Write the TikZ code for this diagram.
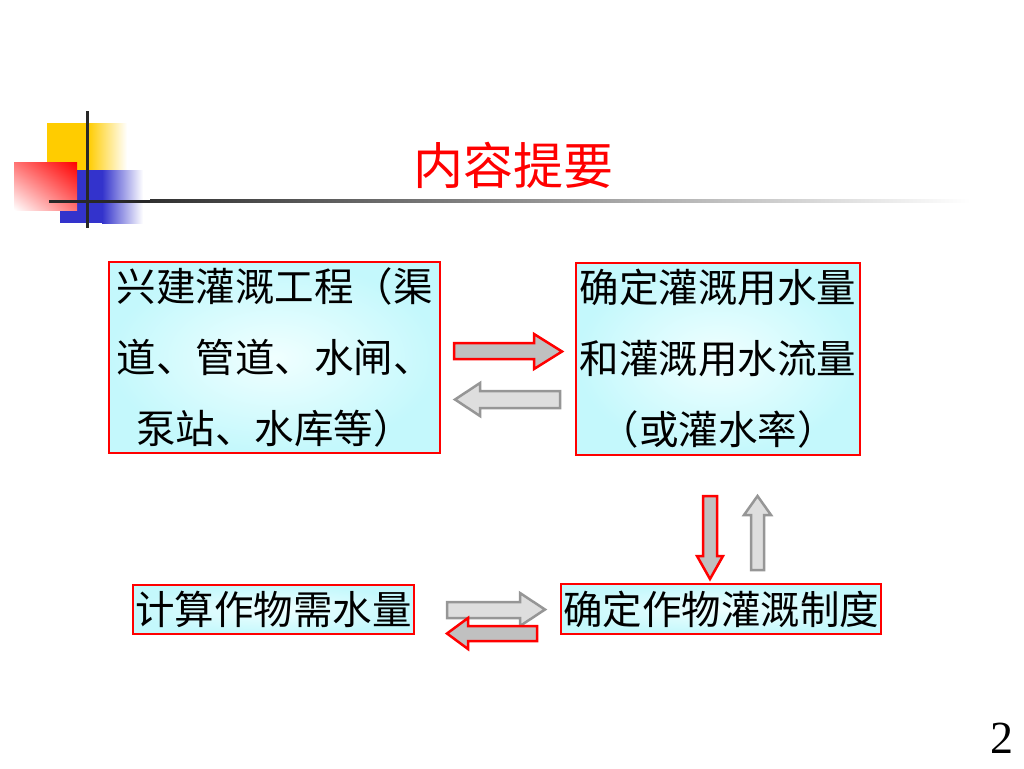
\documentclass[tikz,border=0pt]{standalone}
\usepackage{fontspec}
\usetikzlibrary{shadings}
\newfontfamily\cjk{Noto Sans CJK SC}
\newfontfamily\numfont{Liberation Serif}
\definecolor{boxin}{RGB}{240,255,255}
\definecolor{boxout}{RGB}{196,248,252}
\definecolor{arrfillA}{RGB}{192,192,192}
\definecolor{arrfillB}{RGB}{222,222,222}
\definecolor{arrgray}{RGB}{150,150,150}
\definecolor{logoyellow}{RGB}{255,204,0}
\definecolor{logoblue}{RGB}{51,51,204}
\definecolor{linedark}{RGB}{40,40,40}
\begin{document}
\begin{tikzpicture}[x=1pt,y=-1pt,
  infobox/.style={draw=red, line width=2.5pt, rectangle, inner sep=0pt,
    inner color=boxin, outer color=boxout, align=center,
    font=\cjk\fontsize{39.5}{71}\selectfont},
  redarrow/.style={draw=red, fill=arrfillA, line width=2.5pt, line join=miter},
  grayarrow/.style={draw=arrgray, fill=arrfillB, line width=2.5pt, line join=miter}]
\useasboundingbox (0,0) rectangle (1024,768);
% logo
\fill[logoyellow] (47,123) rectangle (88,190);
\shade[left color=logoyellow, right color=white] (88,123) rectangle (127,190);
\fill[logoblue] (60,170) rectangle (102,223);
\shade[left color=logoblue, right color=white] (102,170) rectangle (143,223);
\shade[upper right=red, upper left=red!55!white, lower right=red!55!white, lower left=white] (14,162) rectangle (77,210);
\fill[linedark] (85.5,111) rectangle (88.5,228);
\fill[linedark] (49,199.5) rectangle (150,202.5);
\shade[left color=linedark!90!gray, right color=white] (150,199.5) rectangle (970,202.5);
% title
\node[text=red, font=\cjk\fontsize{50}{54}\selectfont] (title) at (513,165) {内容提要};
% boxes
\node[infobox, minimum width=331pt, minimum height=191pt, text width=326pt] (build) at (274.5,357.5)
  {兴建灌溉工程（渠\\道、管道、水闸、\\泵站、水库等）};
\node[infobox, minimum width=284pt, minimum height=192pt, text width=282pt] (flow) at (718,359)
  {确定灌溉用水量\\和灌溉用水流量\\（或灌水率）};
\node[infobox, minimum width=281pt, minimum height=49pt] (need) at (273.5,609.5) {计算作物需水量};
\node[infobox, minimum width=320pt, minimum height=50pt] (sched) at (721,609) {确定作物灌溉制度};
% block arrows
\draw[redarrow] (454,343) -- (534,343) -- (534,334) -- (562,351.5) -- (534,369) -- (534,359) -- (454,359) -- cycle;
\draw[grayarrow] (560,391) -- (480,391) -- (480,383) -- (455,399.5) -- (480,416) -- (480,408) -- (560,408) -- cycle;
\draw[redarrow] (703,496) -- (717,496) -- (717,556) -- (723,556) -- (710,579) -- (697,556) -- (703,556) -- cycle;
\draw[grayarrow] (751,570) -- (764,570) -- (764,515) -- (771,515) -- (757.5,496) -- (744,515) -- (751,515) -- cycle;
\draw[grayarrow] (447,602) -- (520,602) -- (520,593) -- (545,609.5) -- (520,626) -- (520,618) -- (447,618) -- cycle;
\draw[redarrow] (537,626) -- (468,626) -- (468,618) -- (447,633.5) -- (468,649) -- (468,641) -- (537,641) -- cycle;
% page number
\node[font=\numfont\fontsize{46}{50}\selectfont] (page) at (1002,738.5) {2};
\end{tikzpicture}
\end{document}
